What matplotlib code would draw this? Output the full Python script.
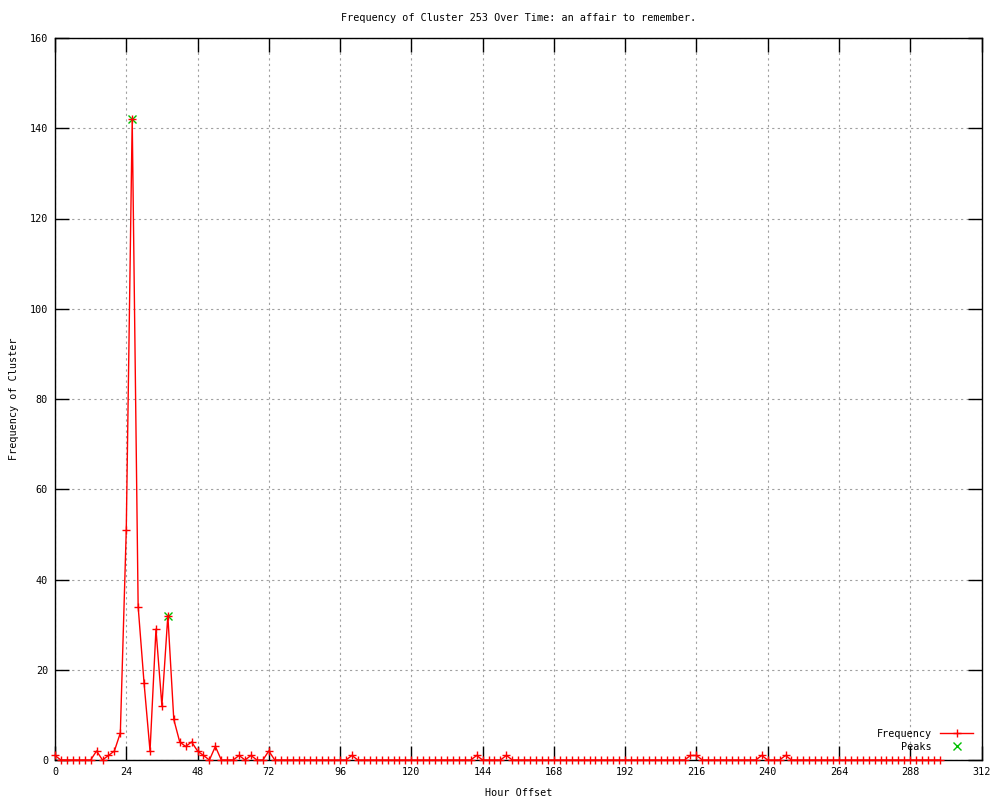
import matplotlib
matplotlib.use('Agg')
import matplotlib.pyplot as plt

# hour offsets (every 2 h) and counts
hours = list(range(0, 300, 2))
freq = [0] * len(hours)
nonzero = {0: 1, 14: 2, 18: 1, 20: 2, 22: 6, 24: 51, 26: 142, 28: 34, 30: 17,
           32: 2, 34: 29, 36: 12, 38: 32, 40: 9, 42: 4, 44: 3, 46: 4, 48: 2,
           50: 1, 54: 3, 62: 1, 66: 1, 72: 2, 100: 1, 142: 1, 152: 1,
           214: 1, 216: 1, 238: 1, 246: 1}
for h, v in nonzero.items():
    freq[hours.index(h)] = v

peak_hours = [26, 38]
peak_vals = [142, 32]

xticks = list(range(0, 313, 24))
yticks = list(range(0, 161, 20))

plt.rcParams['font.family'] = 'DejaVu Sans Mono'
plt.rcParams['font.size'] = 7.3

fig = plt.figure(figsize=(10, 8), dpi=100)
ax = fig.add_axes([0.055, 0.05, 0.9265, 0.9025])

ax.plot(hours, freq, color='#ff0000', lw=1, marker='+', ms=5.5, mew=1,
        label='Frequency', clip_on=False, zorder=3)
ax.plot(peak_hours, peak_vals, ls='none', color='#00c000', marker='x',
        ms=5.5, mew=1, label='Peaks', zorder=2)

ax.set_xlim(0, 312)
ax.set_ylim(0, 160)
ax.set_xticks(xticks)
ax.set_yticks(yticks)
ax.tick_params(direction='in', length=10, width=1, top=True, right=True,
               labelsize=7.3, pad=5)
ax.grid(True, color='#a0a0a0', ls=(0, (2, 3)), lw=0.8)
for s in ax.spines.values():
    s.set_linewidth(1)

ax.set_xlabel('Hour Offset', labelpad=8)
ax.set_ylabel('Frequency of Cluster', labelpad=8)
ax.set_title('Frequency of Cluster 253 Over Time: an affair to remember.',
             pad=12, fontsize=7.3)

ax.legend(loc='lower right', frameon=False, markerfirst=False,
          handlelength=3.3, borderaxespad=0.4, labelspacing=0.3,
          fontsize=7.3)

fig.savefig('out.png', dpi=100)
